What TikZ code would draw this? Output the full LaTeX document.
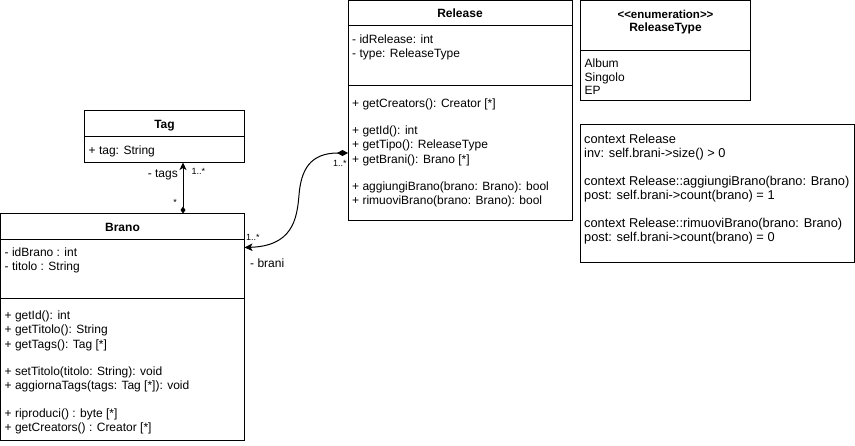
\documentclass[tikz,border=0pt]{standalone}
\usepackage{fontspec}
\setmainfont{Liberation Sans}
\usetikzlibrary{arrows.meta}
\begin{document}
\begin{tikzpicture}[x=1pt,y=-1pt,
  box/.style={draw, line width=1pt, inner sep=0pt, outer sep=0pt, anchor=north west},
  sepline/.style={line width=1pt},
  tl/.style={inner sep=0pt, anchor=base west, font=\fontsize{12}{14.4}\selectfont},
  tt/.style={inner sep=0pt, anchor=base, font=\fontsize{12}{14.4}\selectfont\bfseries},
  tc/.style={inner sep=0pt, anchor=base west, font=\fontsize{12.8}{15}\selectfont},
  tm/.style={inner sep=0pt, font=\fontsize{9}{10}\selectfont},
  conn/.style={line width=1pt}
]
\useasboundingbox (0,0) rectangle (855,445);

% Tag
\node[box, minimum width=160pt, minimum height=52pt] (tag) at (84.5,110.5) {};
\draw[sepline] (84.5,136.5) -- (244.5,136.5);
\node[tt] (tagT) at (164.5,128) {Tag};
\node[tl] (tag1) at (88.5,154) {+ tag: String};

% Brano
\node[box, minimum width=244pt, minimum height=227pt] (brano) at (0.5,213.5) {};
\draw[sepline] (0.5,239.5) -- (244.5,239.5);
\draw[sepline] (0.5,298) -- (244.5,298);
\node[tt] (branoT) at (122.5,231) {Brano};
\node[tl] (b1) at (4.5,256.5) {- idBrano : int};
\node[tl] (b2) at (4.5,270.9) {- titolo : String};
\node[tl] (b3) at (4.5,319.4) {+ getId(): int};
\node[tl] (b4) at (4.5,333.8) {+ getTitolo(): String};
\node[tl] (b5) at (4.5,348.2) {+ getTags(): Tag [*]};
\node[tl] (b6) at (4.5,375.4) {+ setTitolo(titolo: String): void};
\node[tl] (b7) at (4.5,389.8) {+ aggiornaTags(tags: Tag [*]): void};
\node[tl] (b8) at (4.5,417) {+ riproduci() : byte [*]};
\node[tl] (b9) at (4.5,431.4) {+ getCreators() : Creator [*]};

% Release
\node[box, minimum width=224pt, minimum height=219.5pt] (release) at (348,0.5) {};
\draw[sepline] (348,25.5) -- (572,25.5);
\draw[sepline] (348,85.5) -- (572,85.5);
\node[tt] (relT) at (460,17.5) {Release};
\node[tl] (r1) at (352,43.4) {- idRelease: int};
\node[tl] (r2) at (352,57.8) {- type: ReleaseType};
\node[tl] (r3) at (352,107.3) {+ getCreators(): Creator [*]};
\node[tl] (r4) at (352,134.5) {+ getId(): int};
\node[tl] (r5) at (352,148.9) {+ getTipo(): ReleaseType};
\node[tl] (r6) at (352,163.3) {+ getBrani(): Brano [*]};
\node[tl] (r7) at (352,190.5) {+ aggiungiBrano(brano: Brano): bool};
\node[tl] (r8) at (352,204.9) {+ rimuoviBrano(brano: Brano): bool};

% ReleaseType
\node[box, minimum width=170pt, minimum height=100pt] (enum) at (580.5,0.5) {};
\draw[sepline] (580.5,50.5) -- (750.5,50.5);
\node[tt, font=\fontsize{11.5}{14}\selectfont\bfseries] (enS) at (665.5,18.5) {<\kern0pt<enumeration>\kern0pt>};
\node[tt] (enT) at (665.5,31.5) {ReleaseType};
\node[tl] (e1) at (584.5,67.6) {Album};
\node[tl] (e2) at (584.5,81.2) {Singolo};
\node[tl] (e3) at (584.5,94.8) {EP};

% Constraints
\node[box, minimum width=274pt, minimum height=137.5pt] (ocl) at (580.5,124.5) {};
\node[tc] (c1) at (584,143.5) {context Release};
\node[tc] (c2) at (584,157.5) {inv: self.brani->size() > 0};
\node[tc] (c3) at (584,185.5) {context Release::aggiungiBrano(brano: Brano)};
\node[tc] (c4) at (584,199.5) {post: self.brani->count(brano) = 1};
\node[tc] (c5) at (584,227) {context Release::rimuoviBrano(brano: Brano)};
\node[tc] (c6) at (584,241) {post: self.brani->count(brano) = 0};

% Tag - Brano connector
\coordinate (tbx) at (183,0);
\draw[conn, {Diamond[length=7pt,width=5pt]}-{Stealth[length=7.5pt,width=7pt,inset=2pt]}]
  (brano.north -| tbx) -- (tag.south -| tbx);
\node[tl, anchor=base east] (ltags) at (178,177.5) {- tags};
\node[tm, anchor=base west] (m1) at (191.5,174) {1..*};
\node[tm, anchor=base] (m2) at (175,205.5) {*};

% Release - Brano connector
\coordinate (rl) at (348,153);
\coordinate (br) at (244.5,247.5);
\draw[conn, {Diamond[length=11pt,width=6pt]}-{Stealth[length=8pt,width=7.5pt,inset=2pt]}]
  (rl) .. controls (310,153) and (301,170) .. (299,195)
       .. controls (297,220) and (292,246) .. (br);
\node[tm, anchor=base west] (m3) at (333,166.5) {1..*};
\node[tm, anchor=base west] (m4) at (246,240) {1..*};
\node[tl] (lbrani) at (250,267.5) {- brani};
\end{tikzpicture}
\end{document}
